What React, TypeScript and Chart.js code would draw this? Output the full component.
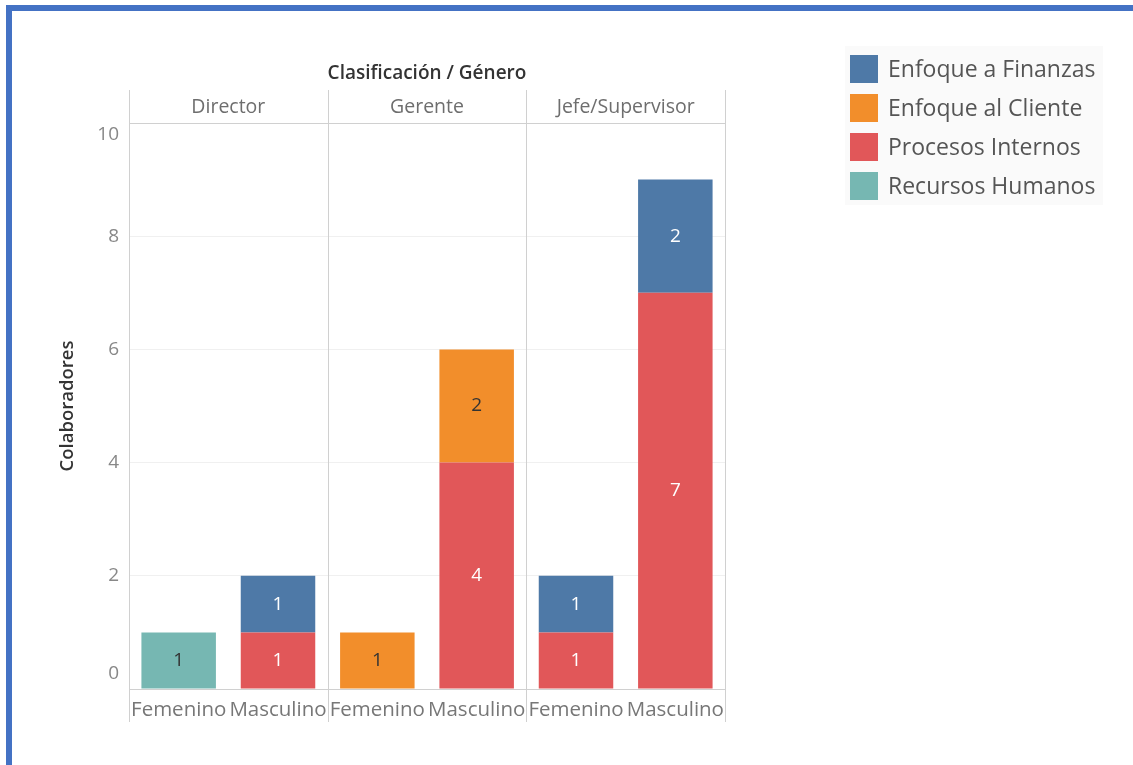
import React, { useEffect, useRef } from "react";
import { Chart, registerables } from "chart.js";

Chart.register(...registerables);

// Grouped categories: job level / gender
const groups = ["Director", "Gerente", "Jefe/Supervisor"];
const genders = ["Femenino", "Masculino"];
const categories = groups.flatMap(() => genders);

// Employee counts per segment (one entry per category above)
const finanzas = [null, 1, null, null, 1, 2];
const cliente = [null, null, 1, 2, null, null];
const procesos = [null, 1, null, 4, 1, 7];
const recursos = [1, null, null, null, null, null];

const yTicks = [0, 2, 4, 6, 8, 10];

const legendNames = [
  "Enfoque a Finanzas",
  "Enfoque al Cliente",
  "Procesos Internos",
  "Recursos Humanos",
];
const legendColors = ["#4E79A7", "#F28E2B", "#E15759", "#76B7B2"];

const FONT = "'Open Sans', 'Noto Sans', sans-serif";

const decorPlugin = {
  id: "decor",
  afterDraw(chart: any) {
    const { ctx, chartArea } = chart;
    const x = chart.scales.x;
    const y = chart.scales.y;
    const { left, right, top, bottom } = chartArea;
    ctx.save();

    // Segment value labels
    chart.data.datasets.forEach((ds: any, di: number) => {
      const meta = chart.getDatasetMeta(di);
      meta.data.forEach((el: any, i: number) => {
        const v = ds.data[i];
        if (v == null) return;
        ctx.font = `19px ${FONT}`;
        ctx.fillStyle = ds.labelColor;
        ctx.textAlign = "center";
        ctx.textBaseline = "middle";
        ctx.fillText(String(v), el.x, (el.y + el.base) / 2);
      });
    });

    // Header band line and panel dividers
    ctx.strokeStyle = "#d0d0d0";
    ctx.lineWidth = 1;
    ctx.beginPath();
    ctx.moveTo(left, top + 0.5);
    ctx.lineTo(right, top + 0.5);
    ctx.stroke();

    const n = categories.length;
    const divs: number[] = [left];
    for (let g = 1; g < groups.length; g++) {
      const i = g * genders.length;
      divs.push((x.getPixelForValue(i - 1) + x.getPixelForValue(i)) / 2);
    }
    divs.push(right);
    ctx.beginPath();
    divs.forEach((d) => {
      const px = Math.round(d) + 0.5;
      ctx.moveTo(px, top - 33);
      ctx.lineTo(px, bottom + 33);
    });
    ctx.stroke();

    // Group headers
    ctx.font = `19.5px ${FONT}`;
    ctx.fillStyle = "#6e6e6e";
    ctx.textAlign = "center";
    ctx.textBaseline = "middle";
    groups.forEach((g, gi) => {
      ctx.fillText(g, (divs[gi] + divs[gi + 1]) / 2, top - 16);
    });

    // Top title
    ctx.font = `600 19px ${FONT}`;
    ctx.fillStyle = "#333";
    ctx.fillText("Clasificación / Género", (left + right) / 2, top - 49);

    // Category labels
    ctx.font = `20.5px ${FONT}`;
    ctx.fillStyle = "#777";
    for (let i = 0; i < n; i++) {
      ctx.fillText(categories[i], x.getPixelForValue(i), bottom + 21);
    }

    // Y tick labels
    ctx.font = `19px ${FONT}`;
    ctx.fillStyle = "#888";
    ctx.textAlign = "right";
    yTicks.forEach((t) => {
      const py = y.getPixelForValue(t);
      let off = 0;
      if (t === yTicks[0]) off = -15;
      if (t === yTicks[yTicks.length - 1]) off = 12;
      ctx.fillText(String(t), left - 10, py + off);
    });

    // Y axis title
    ctx.save();
    ctx.translate(68, (top + bottom) / 2);
    ctx.rotate(-Math.PI / 2);
    ctx.textAlign = "center";
    ctx.font = `600 18.5px ${FONT}`;
    ctx.fillStyle = "#333";
    ctx.fillText("Colaboradores", 0, 0);
    ctx.restore();

    // Legend
    const lx = 850;
    const ly = 69;
    const row = 39;
    ctx.fillStyle = "#fafafa";
    ctx.fillRect(lx - 5, ly - 23, 258, row * legendNames.length + 3);
    legendNames.forEach((name, i) => {
      const cy = ly + i * row;
      ctx.fillStyle = legendColors[i];
      ctx.fillRect(lx, cy - 14, 28, 28);
      ctx.fillStyle = "#555";
      ctx.font = `23px ${FONT}`;
      ctx.textAlign = "left";
      ctx.textBaseline = "middle";
      ctx.fillText(name, lx + 38, cy + 1);
    });

    ctx.restore();
  },
};

export default function App() {
  const ref = useRef<HTMLCanvasElement | null>(null);

  useEffect(() => {
    document.body.style.margin = "0";
    const canvas = ref.current;
    if (!canvas) return;
    const chart = new Chart(canvas, {
      type: "bar",
      data: {
        labels: categories,
        datasets: [
          { label: legendNames[2], data: procesos, backgroundColor: legendColors[2], labelColor: "#ffffff" } as any,
          { label: legendNames[3], data: recursos, backgroundColor: legendColors[3], labelColor: "#333333" } as any,
          { label: legendNames[1], data: cliente, backgroundColor: legendColors[1], labelColor: "#333333" } as any,
          { label: legendNames[0], data: finanzas, backgroundColor: legendColors[0], labelColor: "#ffffff" } as any,
        ],
      },
      options: {
        animation: false,
        responsive: false,
        maintainAspectRatio: false,
        layout: { padding: { left: 129, top: 123, right: 408, bottom: 76 } },
        datasets: { bar: { barPercentage: 0.75, categoryPercentage: 1, borderWidth: 0 } },
        plugins: { legend: { display: false }, tooltip: { enabled: false }, title: { display: false } },
        scales: {
          x: {
            stacked: true,
            ticks: { display: false },
            grid: { display: false },
            border: { display: false },
            afterFit: (s: any) => { s.height = 0; },
          },
          y: {
            stacked: true,
            min: 0,
            max: 10,
            ticks: { display: false, stepSize: 2 },
            grid: {
              drawTicks: false,
              color: (c: any) => (c.tick && c.tick.value === 0 ? "#d0d0d0" : c.tick && c.tick.value === 10 ? "rgba(0,0,0,0)" : "#f0f0f0"),
            },
            border: { display: false },
            afterFit: (s: any) => { s.width = 0; },
          },
        },
      },
      plugins: [decorPlugin],
    });
    return () => chart.destroy();
  }, []);

  return (
    <div style={{ position: "relative", width: 1133, height: 765, background: "#fff", overflow: "hidden" }}>
      <canvas ref={ref} width={1133} height={765} style={{ position: "absolute", left: 0, top: 0, width: 1133, height: 765 }} />
      <div style={{ position: "absolute", left: 6, top: 5, width: 1127, height: 6, background: "#4472C4" }} />
      <div style={{ position: "absolute", left: 6, top: 5, width: 6, height: 760, background: "#4472C4" }} />
    </div>
  );
}
